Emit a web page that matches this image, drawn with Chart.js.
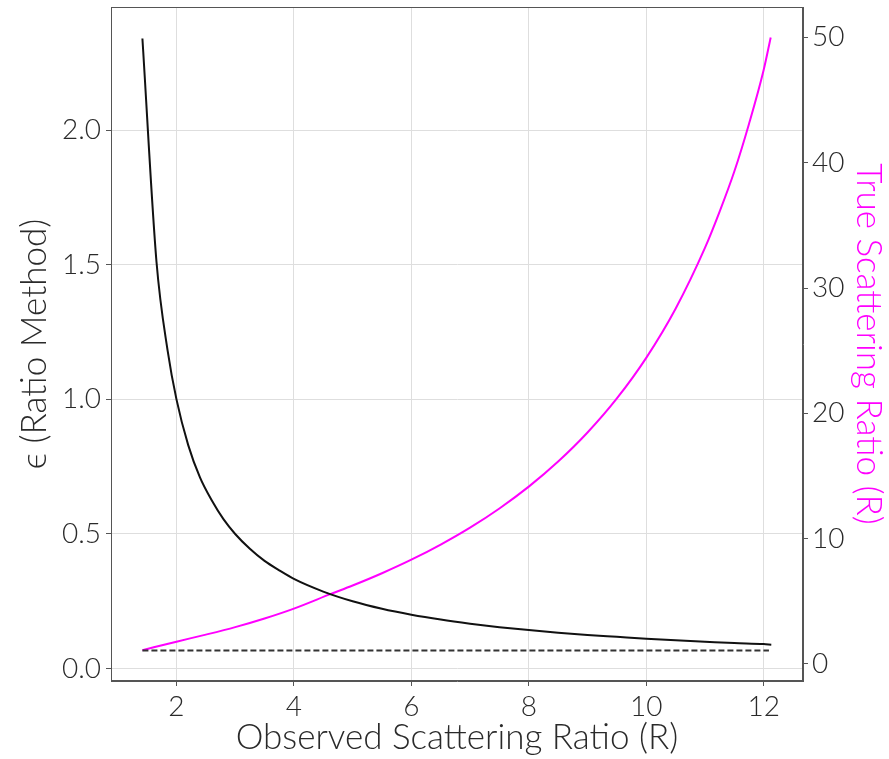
<!DOCTYPE html>
<html>
<head>
<meta charset="utf-8">
<script src="https://cdn.jsdelivr.net/npm/chart.js@4.4.1/dist/chart.umd.min.js"></script>
<style>
  html, body { margin: 0; padding: 0; background: #fff; }
  #wrap { width: 889px; height: 759px; position: relative; }
</style>
</head>
<body>
<div id="wrap"><canvas id="c"></canvas></div>
<script>
// Observed scattering ratio (x) and epsilon (ratio method), left axis
const epsObserved = [1.42, 1.66, 1.85, 2.0, 2.2, 2.4, 2.6, 2.8, 3.0, 3.25, 3.5, 3.75, 4.0, 4.5, 5.0, 5.5, 6.0, 6.5, 7.0, 7.5, 8.0, 8.5, 9.0, 9.5, 10.0, 10.5, 11.0, 11.5, 12.0, 12.13];
const epsValues   = [2.34, 1.51, 1.18, 1.0, 0.83, 0.71, 0.625, 0.555, 0.50, 0.445, 0.40, 0.365, 0.333, 0.286, 0.25, 0.222, 0.20, 0.182, 0.167, 0.154, 0.143, 0.133, 0.125, 0.118, 0.111, 0.105, 0.10, 0.095, 0.091, 0.089];

// Dashed reference level (left axis)
const refObserved = [1.42, 12.09];
const refValues   = [0.067, 0.067];

// True scattering ratio vs observed scattering ratio, right axis
const trueObserved = [1.42, 2.0, 2.5, 3.0, 3.5, 4.0, 4.63, 5.0, 5.5, 6.0, 6.5, 7.0, 7.5, 8.0, 8.5, 9.0, 9.5, 10.0, 10.5, 11.0, 11.25, 11.5, 11.75, 12.0, 12.12];
const trueValues   = [1.1, 1.78, 2.34, 2.94, 3.63, 4.42, 5.59, 6.26, 7.24, 8.32, 9.53, 10.88, 12.41, 14.15, 16.15, 18.47, 21.19, 24.43, 28.35, 33.2, 36.1, 39.3, 43.1, 47.4, 50.0];

// Tick values
const xTicks  = [2, 4, 6, 8, 10, 12];
const yTicks  = [0.0, 0.5, 1.0, 1.5, 2.0];
const y1Ticks = [0, 10, 20, 30, 40, 50];

const pts = (xs, ys) => xs.map((x, i) => ({ x: x, y: ys[i] }));

const FONT = "Lato, 'Open Sans', 'DejaVu Sans', sans-serif";
const TXT = '#2a2a2a';

const framePlugin = {
  id: 'frame',
  afterDraw(chart) {
    const a = chart.chartArea, ctx = chart.ctx;
    ctx.save();
    ctx.strokeStyle = '#555';
    ctx.lineWidth = 1;
    ctx.strokeRect(Math.round(a.left) + 0.5, Math.round(a.top) + 0.5, Math.round(a.right - a.left) - 1, Math.round(a.bottom - a.top) - 1);
    ctx.restore();
  }
};

function zeroPad(s) { s.paddingTop = 0; s.paddingBottom = 0; s.paddingLeft = 0; s.paddingRight = 0; }

new Chart(document.getElementById('c'), {
  type: 'line',
  data: {
    datasets: [
      { data: pts(epsObserved, epsValues), yAxisID: 'y', borderColor: '#111', borderWidth: 2, pointRadius: 0, cubicInterpolationMode: 'monotone', fill: false },
      { data: pts(refObserved, refValues), yAxisID: 'y', borderColor: '#333', borderWidth: 2, borderDash: [6, 3], pointRadius: 0, fill: false },
      { data: pts(trueObserved, trueValues), yAxisID: 'y1', borderColor: '#ff00ff', borderWidth: 2, pointRadius: 0, cubicInterpolationMode: 'monotone', fill: false }
    ]
  },
  options: {
    responsive: true,
    maintainAspectRatio: false,
    animation: false,
    layout: { padding: { top: 7, left: 0, right: 0, bottom: 0 } },
    plugins: { legend: { display: false }, tooltip: { enabled: false } },
    scales: {
      x: {
        type: 'linear', position: 'bottom', min: 0.885, max: 12.67,
        afterFit(s) { s.height = 78; zeroPad(s); },
        afterBuildTicks(s) { s.ticks = xTicks.map(v => ({ value: v })); },
        ticks: { color: TXT, font: { family: FONT, size: 28, weight: 300 }, padding: 4, callback: v => String(v) },
        grid: { color: '#dedede', lineWidth: 1, tickLength: 5, tickColor: '#555' },
        border: { color: '#555' },
        title: { display: true, text: 'Observed Scattering Ratio (R)', color: TXT, font: { family: FONT, size: 35, weight: 300 }, padding: { top: 0, bottom: 0 } }
      },
      y: {
        type: 'linear', position: 'left', min: -0.046, max: 2.457,
        afterFit(s) { s.width = 111; zeroPad(s); },
        afterBuildTicks(s) { s.ticks = yTicks.map(v => ({ value: v })); },
        ticks: { color: TXT, font: { family: FONT, size: 28, weight: 300 }, padding: 5, callback: v => Number(v).toFixed(1) },
        grid: { color: '#dedede', lineWidth: 1, tickLength: 5, tickColor: '#555' },
        border: { color: '#555' },
        title: { display: true, text: 'ϵ (Ratio Method)', color: TXT, font: { family: FONT, size: 35, weight: 300 }, padding: { top: 14, bottom: 0 } }
      },
      y1: {
        type: 'linear', position: 'right', min: -1.36, max: 52.43,
        afterFit(s) { s.width = 86; zeroPad(s); },
        afterBuildTicks(s) { s.ticks = y1Ticks.map(v => ({ value: v })); },
        ticks: { color: TXT, font: { family: FONT, size: 28, weight: 300 }, padding: 4, callback: v => String(v) },
        grid: { drawOnChartArea: false, tickLength: 5, tickColor: '#555' },
        border: { color: '#555' },
        title: { display: true, text: 'True Scattering Ratio (R)', color: '#ff00ff', font: { family: FONT, size: 35, weight: 300 }, padding: { top: 0, bottom: 0 } }
      }
    }
  },
  plugins: [framePlugin]
});
</script>
</body>
</html>
